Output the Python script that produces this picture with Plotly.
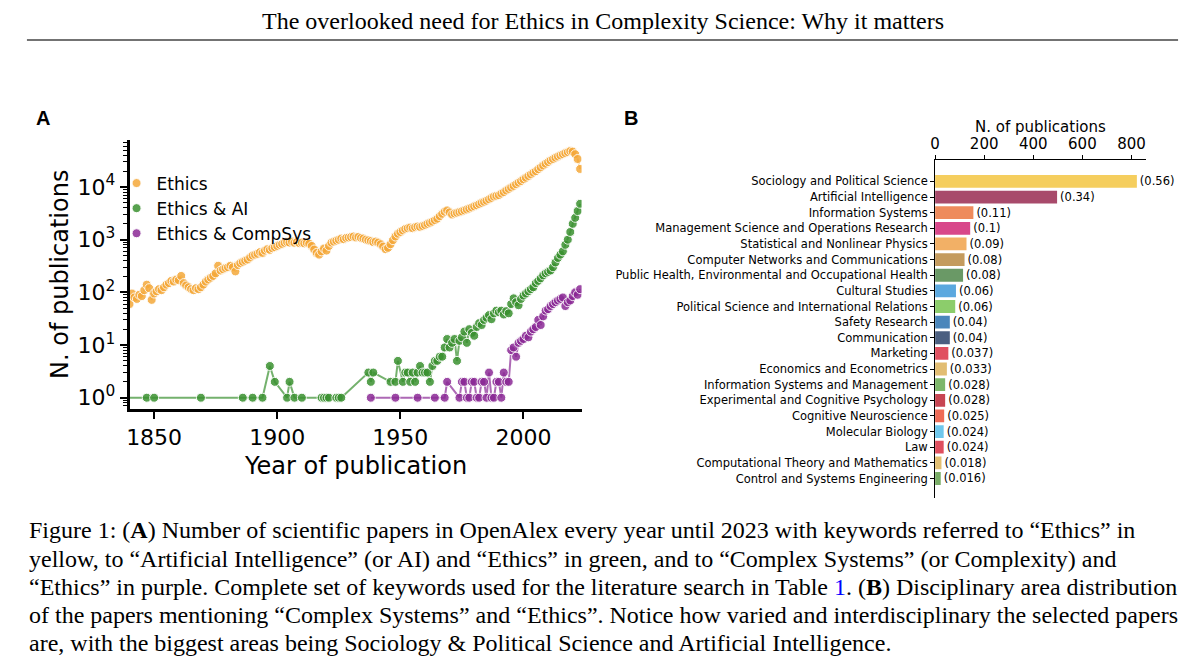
import plotly.graph_objects as go

# page body has an 8px margin, so the figure is drawn a bit smaller and
# every position below is given in window pixels of the 1200x669 shot
OFF = 8
W, H = 1200 - 2 * OFF, 669 - 2 * OFF

# ---- panel A data ----
ethics_years = list(range(1840, 2024))
ethics_counts = [
    60, 95, 80, 75, 90, 85, 110, 140, 120, 72,
    95, 105, 115, 110, 125, 140, 150, 165, 160, 175,
    170, 205, 150, 135, 125, 115, 110, 120, 115, 125,
    140, 160, 175, 190, 205, 230, 320, 260, 275, 290,
    300, 320, 300, 250, 330, 360, 380, 400, 420, 460,
    500, 520, 540, 580, 560, 620, 660, 640, 690, 720,
    760, 800, 830, 870, 900, 880, 920, 870, 900, 860,
    880, 850, 870, 840, 760, 650, 560, 520, 600, 680,
    620, 760, 880, 920, 960, 1000, 1050, 1020, 1080, 1100,
    1120, 1150, 1100, 1130, 1080, 1050, 1000, 970, 940, 900,
    920, 880, 820, 740, 660, 700, 820, 980, 1150, 1300,
    1400, 1500, 1600, 1650, 1700, 1650, 1720, 1780, 1750, 1820,
    1900, 2000, 2100, 2200, 2350, 2500, 2800, 3100, 3400, 3600,
    3300, 3000, 3150, 3250, 3350, 3450, 3600, 3750, 3900, 4100,
    4300, 4500, 4750, 5000, 5250, 5500, 5850, 6200, 6600, 6800,
    7000, 7500, 8000, 8600, 9200, 9800, 10500, 11300, 12100, 13000,
    14000, 15000, 16200, 17400, 18700, 20000, 21800, 23600, 25600, 27700,
    29800, 32000, 34000, 36000, 38000, 40000, 42000, 44000, 46000, 48000,
    47000, 42000, 34000, 22000,
]

ai_years = [1830, 1847, 1850, 1869, 1886, 1890, 1894, 1897, 1899, 1904, 1905, 1907,
            1910, 1918, 1919, 1920, 1921, 1924, 1925, 1926, 1937, 1938, 1939, 1946,
            1948, 1949, 1951, 1952, 1953, 1954, 1955, 1956, 1957, 1958, 1959, 1960,
            1961, 1962] + list(range(1963, 2024))
ai_counts = [1, 1, 1, 1, 1, 1, 1, 4, 2, 1, 2, 1,
             1, 1, 1, 1, 1, 1, 1, 1, 3, 2, 3, 2,
             2, 5, 2, 3, 3, 2, 3, 2, 3, 4, 3, 3,
             3, 2,
             4, 5, 5, 6, 6, 9, 13, 9, 11, 13, 5, 12, 14, 18, 11, 20, 17,
             15, 22, 26, 24, 30, 33, 37, 31, 40, 45, 42, 45, 38, 44, 40,
             60, 77, 65, 57, 75, 87, 95, 105, 115, 125, 150, 165, 185, 210,
             230, 245, 260, 300, 370, 450, 520, 600, 800, 1000, 1400, 2000,
             2600, 3500, 4800]

cs_years = [1938, 1948, 1957, 1964, 1968, 1969] + list(range(1974, 2024))
cs_counts = [1, 1, 1, 1, 1, 2,
             1, 2, 2, 1, 1, 2, 2, 1, 1, 2, 2, 1, 3, 1, 1, 2, 2, 1, 3, 2, 2,
             8, 9, 6, 11, 12, 13, 15, 14, 18, 20, 22, 30, 24, 35, 45, 48,
             55, 60, 65, 70, 75, 80, 55, 65, 70, 85, 100, 90, 115]

# ---- panel B data ----
areas = [
    "Sociology and Political Science", "Artificial Intelligence", "Information Systems",
    "Management Science and Operations Research", "Statistical and Nonlinear Physics",
    "Computer Networks and Communications",
    "Public Health, Environmental and Occupational Health", "Cultural Studies",
    "Political Science and International Relations", "Safety Research", "Communication",
    "Marketing", "Economics and Econometrics", "Information Systems and Management",
    "Experimental and Cognitive Psychology", "Cognitive Neuroscience", "Molecular Biology",
    "Law", "Computational Theory and Mathematics", "Control and Systems Engineering",
]
area_counts = [822, 497, 156, 143, 128, 120, 114, 85, 82, 60, 60, 54, 48, 41, 41, 37, 35, 35, 26, 23]
area_share = ["(0.56)", "(0.34)", "(0.11)", "(0.1)", "(0.09)", "(0.08)", "(0.08)", "(0.06)",
              "(0.06)", "(0.04)", "(0.04)", "(0.037)", "(0.033)", "(0.028)", "(0.028)",
              "(0.025)", "(0.024)", "(0.024)", "(0.018)", "(0.016)"]
area_colors = ["#F5CE5E", "#A84A6B", "#EE8B5C", "#D8478A", "#F2B066", "#C49B5E", "#6A9966",
               "#5BA8DF", "#8CCD6B", "#4A86BB", "#4B5F80", "#E0505F", "#E2BD72", "#7DB76A",
               "#C74552", "#EE6B56", "#6EC7EC", "#DF4F5E", "#E2BF72", "#79AD67"]

series = [
    ("Ethics", ethics_years, ethics_counts, "#F5A93A"),
    ("Ethics & AI", ai_years, ai_counts, "#3A9130"),
    ("Ethics & CompSys", cs_years, cs_counts, "#8B2A96"),
]


def px(x):
    return (x - OFF) / W


def py(y):
    return 1 - (y - OFF) / H


fig = go.Figure()

for name, xs, ys, col in series:
    fig.add_trace(go.Scatter(
        x=xs, y=ys, mode="lines", line=dict(color=col, width=2),
        opacity=0.7, showlegend=False, hoverinfo="skip",
    ))
    fig.add_trace(go.Scatter(
        x=xs, y=ys, mode="markers", name=name,
        marker=dict(size=9, color=col, opacity=0.85,
                    line=dict(color="white", width=1)),
    ))

fig.add_trace(go.Bar(
    x=area_counts, y=areas, orientation="h", xaxis="x2", yaxis="y2",
    marker=dict(color=area_colors, line=dict(width=0)), width=0.82,
    text=area_share, textposition="outside", cliponaxis=False, constraintext="none",
    textfont=dict(size=11.5, color="black"), showlegend=False,
))

minor_vals = [m * 10 ** e for e in range(-1, 5) for m in range(2, 10)]

fig.update_layout(
    width=W, height=H,
    margin=dict(l=0, r=0, t=0, b=0),
    paper_bgcolor="white", plot_bgcolor="white",
    font=dict(family="DejaVu Sans", color="black"),
    xaxis=dict(
        domain=[px(125), px(579)], anchor="y", range=[1840, 2023.6],
        tickvals=[1850, 1900, 1950, 2000], ticks="outside", ticklen=7, tickwidth=2,
        tickcolor="black", showline=True, linewidth=2.5, linecolor="black",
        showgrid=False, zeroline=False, tickfont=dict(size=22),
    ),
    yaxis=dict(
        domain=[py(410), py(140)], anchor="x", type="log", range=[-0.21, 4.9],
        tickvals=[1, 10, 100, 1000, 10000],
        ticktext=["10<sup>0</sup>", "10<sup>1</sup>", "10<sup>2</sup>",
                  "10<sup>3</sup>", "10<sup>4</sup>"],
        ticks="outside", ticklen=7, tickwidth=2, tickcolor="black",
        showline=True, linewidth=2.5, linecolor="black", showgrid=False,
        zeroline=False, tickfont=dict(size=22),
        minor=dict(tickvals=minor_vals, ticks="outside", ticklen=4, tickwidth=1,
                   tickcolor="black", showgrid=False),
    ),
    xaxis2=dict(
        domain=[px(934), px(1146)], anchor="y2", side="top", range=[0, 860],
        tickvals=[0, 200, 400, 600, 800], ticks="outside", ticklen=4, tickwidth=1,
        tickcolor="black", showline=True, linewidth=1, linecolor="black",
        showgrid=False, zeroline=False, tickfont=dict(size=15),
    ),
    yaxis2=dict(
        domain=[py(500), py(160)], anchor="x2", type="category",
        categoryorder="array", categoryarray=areas, range=[20.28, -1.4],
        ticks="outside", ticklen=4, tickwidth=1, tickcolor="black",
        showline=True, linewidth=1, linecolor="black", showgrid=False,
        tickfont=dict(size=11.5),
    ),
    legend=dict(
        x=px(112), y=py(166), xanchor="left", yanchor="top",
        bgcolor="rgba(0,0,0,0)", font=dict(size=17), itemwidth=30,
        tracegroupgap=0,
    ),
)

caption = [
    "Figure 1: (<b>A</b>) Number of scientific papers in OpenAlex every year until 2023 with keywords referred to “Ethics” in",
    "yellow, to “Artificial Intelligence” (or AI) and “Ethics” in green, and to “Complex Systems” (or Complexity) and",
    "“Ethics” in purple. Complete set of keywords used for the literature search in Table <span style='color:blue'>1</span>. (<b>B</b>) Disciplinary area distribution",
    "of the papers mentioning “Complex Systems” and “Ethics”. Notice how varied and interdisciplinary the selected papers",
    "are, with the biggest areas being Sociology &amp; Political Science and Artificial Intelligence.",
]

notes = [
    dict(text="The overlooked need for Ethics in Complexity Science: Why it matters",
         x=px(600), y=py(21), xanchor="center", font=dict(family="Liberation Serif", size=24)),
    dict(text="<b>A</b>", x=px(29), y=py(118), xanchor="left",
         font=dict(family="Liberation Sans", size=20)),
    dict(text="<b>B</b>", x=px(620), y=py(118), xanchor="left",
         font=dict(family="Liberation Sans", size=20)),
    dict(text="N. of publications", x=px(55), y=py(275), textangle=-90,
         xanchor="center", font=dict(size=24)),
    dict(text="Year of publication", x=px(352), y=py(467), xanchor="center",
         font=dict(size=24)),
    dict(text="N. of publications", x=px(1040), y=py(127), xanchor="center",
         font=dict(size=15)),
]
for i, line in enumerate(caption):
    notes.append(dict(text=line, x=px(22), y=py(532 + 28.3 * i), xanchor="left",
                      font=dict(family="Liberation Serif", size=24)))

for a in notes:
    a.update(xref="paper", yref="paper", yanchor="middle", showarrow=False)
    fig.add_annotation(**a)

fig.add_shape(type="line", xref="paper", yref="paper", x0=px(22), x1=px(1178),
              y0=py(40), y1=py(40), line=dict(color="#444444", width=1.5))

fig.write_html("out.html")
